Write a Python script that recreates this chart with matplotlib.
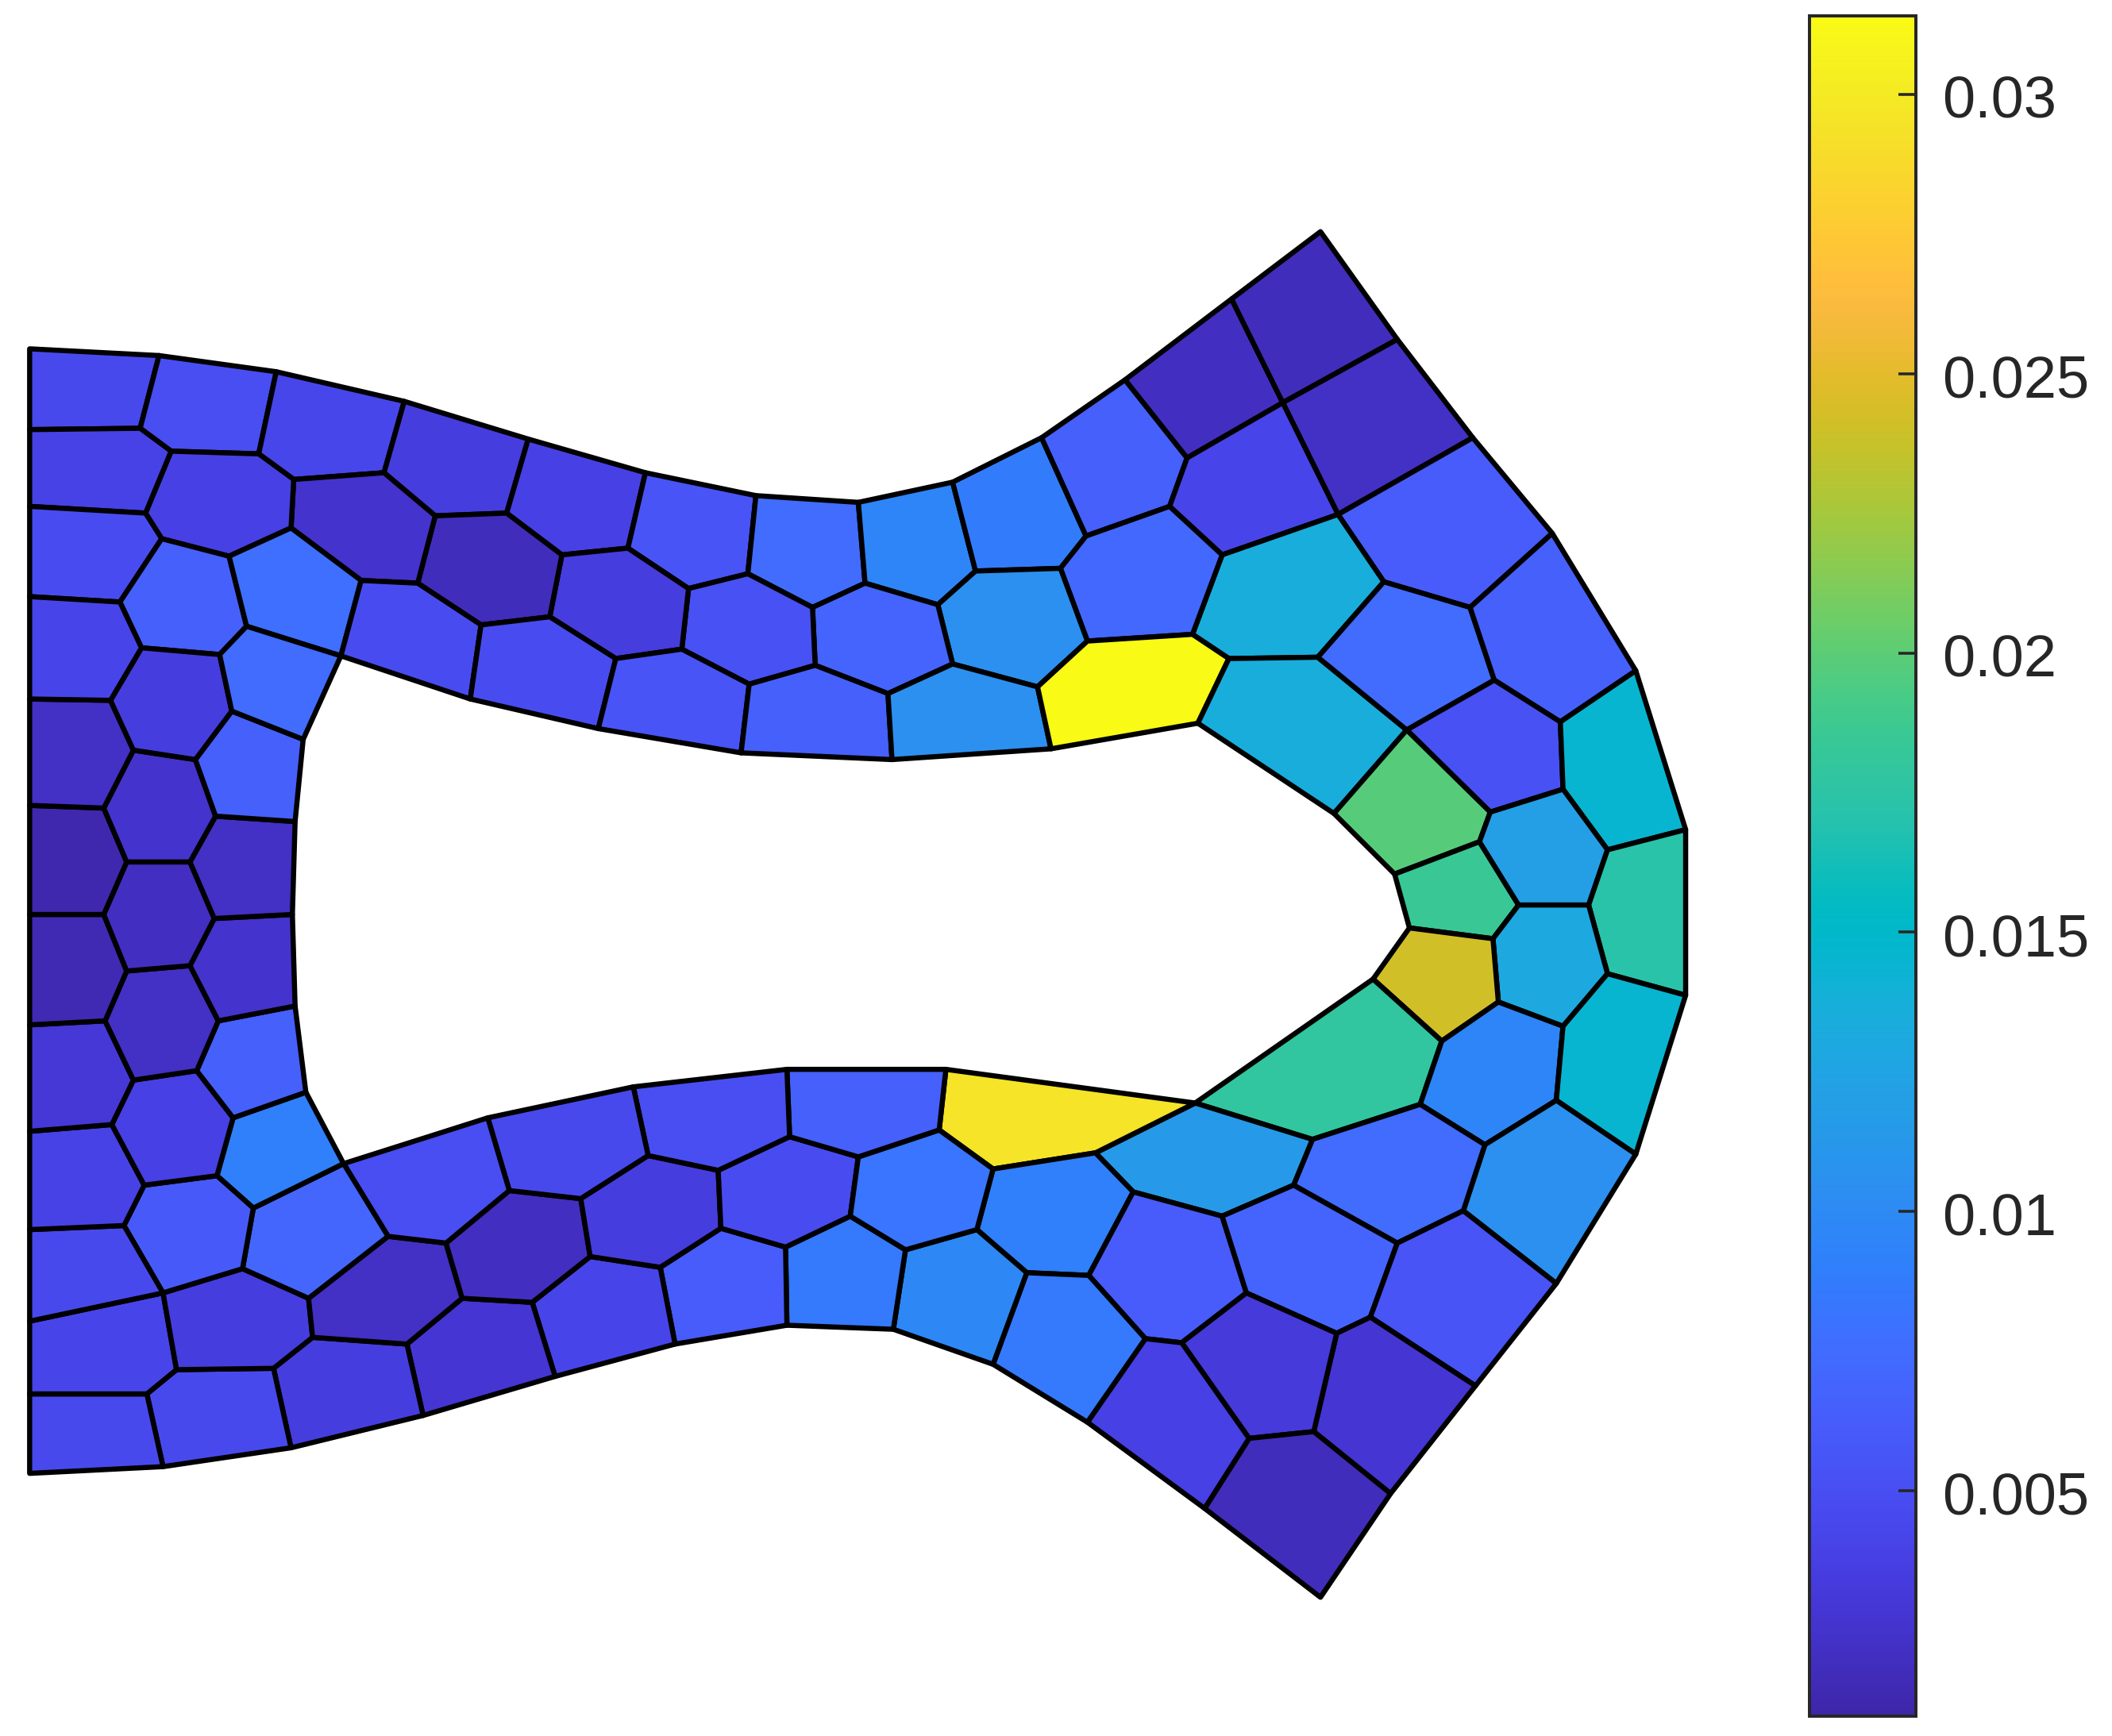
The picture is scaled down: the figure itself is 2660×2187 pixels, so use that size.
import matplotlib
matplotlib.use('Agg')
import matplotlib.pyplot as plt
from matplotlib.collections import PolyCollection
from matplotlib.colors import LinearSegmentedColormap, Normalize
from matplotlib.cm import ScalarMappable
from matplotlib.transforms import ScaledTranslation

plt.rcParams['font.family'] = ['Liberation Sans', 'DejaVu Sans']

# old parula table
parula = [
    [0.2422,0.1504,0.6603],[0.2504,0.1650,0.7076],[0.2578,0.1818,0.7511],[0.2647,0.1978,0.7952],
    [0.2706,0.2147,0.8364],[0.2751,0.2342,0.8710],[0.2783,0.2559,0.8991],[0.2803,0.2782,0.9221],
    [0.2813,0.3006,0.9414],[0.2810,0.3228,0.9579],[0.2795,0.3447,0.9717],[0.2760,0.3667,0.9829],
    [0.2699,0.3892,0.9906],[0.2602,0.4123,0.9952],[0.2440,0.4358,0.9988],[0.2206,0.4603,0.9973],
    [0.1963,0.4847,0.9892],[0.1834,0.5074,0.9798],[0.1786,0.5289,0.9682],[0.1764,0.5499,0.9520],
    [0.1687,0.5703,0.9359],[0.1540,0.5902,0.9218],[0.1460,0.6091,0.9079],[0.1380,0.6276,0.8973],
    [0.1248,0.6459,0.8883],[0.1113,0.6635,0.8763],[0.0952,0.6798,0.8598],[0.0689,0.6948,0.8394],
    [0.0297,0.7082,0.8163],[0.0036,0.7203,0.7917],[0.0067,0.7312,0.7660],[0.0433,0.7411,0.7394],
    [0.0964,0.7500,0.7120],[0.1408,0.7584,0.6842],[0.1717,0.7670,0.6554],[0.1938,0.7758,0.6251],
    [0.2161,0.7843,0.5923],[0.2470,0.7918,0.5567],[0.2906,0.7973,0.5188],[0.3406,0.8008,0.4789],
    [0.3909,0.8029,0.4354],[0.4456,0.8024,0.3909],[0.5044,0.7993,0.3480],[0.5616,0.7942,0.3045],
    [0.6174,0.7876,0.2612],[0.6720,0.7793,0.2227],[0.7242,0.7698,0.1910],[0.7738,0.7598,0.1646],
    [0.8203,0.7498,0.1535],[0.8634,0.7406,0.1596],[0.9035,0.7330,0.1774],[0.9393,0.7288,0.2100],
    [0.9728,0.7298,0.2394],[0.9956,0.7434,0.2371],[0.9970,0.7659,0.2199],[0.9952,0.7893,0.2028],
    [0.9892,0.8136,0.1885],[0.9786,0.8386,0.1766],[0.9676,0.8639,0.1643],[0.9610,0.8890,0.1537],
    [0.9597,0.9135,0.1423],[0.9628,0.9373,0.1265],[0.9691,0.9606,0.1064],[0.9769,0.9839,0.0805],
]

# mesh cells, corners
cells = [
    [(22,259),(118,264),(104,318),(22,319)],
    [(118,264),(205,276),(192,337),(127,335),(104,318)],
    [(205,276),(300,298),(285,351),(218,356),(192,337)],
    [(300,298),(392,326),(376,381),(323,383),(285,351)],
    [(392,326),(479,351),(466,407),(417,412),(376,381)],
    [(479,351),(561,368),(555,426),(511,437),(466,407)],
    [(561,368),(637,373),(642,433),(603,451),(555,426)],
    [(637,373),(707,358),(724,424),(696,449),(642,433)],
    [(707,358),(773,325),(806,398),(787,422),(724,424)],
    [(773,325),(835,282),(881,340),(868,376),(806,398)],
    [(835,282),(914,222),(952,299),(881,340)],
    [(914,222),(980,172),(1037,252),(952,299)],
    [(952,299),(1037,252),(1093,325),(993,382)],
    [(881,340),(952,299),(993,382),(907,412),(868,376)],
    [(993,382),(1093,325),(1152,396),(1091,451),(1027,432)],
    [(907,412),(993,382),(1027,432),(978,488),(912,489),(885,471)],
    [(806,398),(868,376),(907,412),(885,471),(807,476),(787,422)],
    [(724,424),(787,422),(807,476),(770,510),(707,493),(696,449)],
    [(642,433),(696,449),(707,493),(659,515),(605,494),(603,451)],
    [(555,426),(603,451),(605,494),(556,508),(506,482),(511,437)],
    [(466,407),(511,437),(506,482),(457,489),(408,458),(417,412)],
    [(323,383),(376,381),(417,412),(408,458),(357,464),(310,433)],
    [(218,356),(285,351),(323,383),(310,433),(268,431),(216,392)],
    [(127,335),(192,337),(218,356),(216,392),(170,413),(120,400),(108,381)],
    [(22,319),(104,318),(127,335),(108,381),(22,376)],
    [(22,376),(108,381),(120,400),(89,447),(22,443)],
    [(120,400),(170,413),(183,465),(163,486),(105,481),(89,447)],
    [(170,413),(216,392),(268,431),(253,487),(183,465)],
    [(268,431),(310,433),(357,464),(349,519),(253,487)],
    [(357,464),(408,458),(457,489),(444,541),(349,519)],
    [(457,489),(506,482),(556,508),(550,559),(444,541)],
    [(556,508),(605,494),(659,515),(662,564),(550,559)],
    [(659,515),(707,493),(770,510),(780,556),(662,564)],
    [(770,510),(807,476),(885,471),(912,489),(889,537),(780,556)],
    [(912,489),(978,488),(1044,542),(990,604),(889,537)],
    [(978,488),(1027,432),(1091,451),(1109,505),(1044,542)],
    [(1091,451),(1152,396),(1214,498),(1158,536),(1109,505)],
    [(1109,505),(1158,536),(1160,586),(1106,603),(1044,542)],
    [(1158,536),(1214,498),(1251,616),(1193,631),(1160,586)],
    [(1044,542),(1106,603),(1098,625),(1035,649),(990,604)],
    [(1035,649),(1098,625),(1127,672),(1108,697),(1046,689)],
    [(1106,603),(1160,586),(1193,631),(1179,672),(1127,672),(1098,625)],
    [(1193,631),(1251,616),(1251,739),(1193,723),(1179,672)],
    [(1127,672),(1179,672),(1193,723),(1160,762),(1112,744),(1108,697)],
    [(1046,689),(1108,697),(1112,744),(1070,773),(1019,727)],
    [(1019,727),(1070,773),(1054,820),(974,846),(887,819)],
    [(1070,773),(1112,744),(1160,762),(1155,817),(1102,850),(1054,820)],
    [(1160,762),(1193,723),(1251,739),(1214,857),(1155,817)],
    [(1155,817),(1214,857),(1155,953),(1086,899),(1102,850)],
    [(1054,820),(1102,850),(1086,899),(1037,923),(960,880),(974,846)],
    [(887,819),(974,846),(960,880),(907,903),(841,885),(813,856)],
    [(702,794),(887,819),(813,856),(737,868),(697,839)],
    [(737,868),(813,856),(841,885),(808,947),(762,945),(725,913)],
    [(841,885),(907,903),(925,960),(877,997),(850,994),(808,947)],
    [(907,903),(960,880),(1037,923),(1017,978),(992,990),(925,960)],
    [(1037,923),(1086,899),(1155,953),(1095,1029),(1017,978)],
    [(992,990),(1017,978),(1095,1029),(1032,1109),(975,1063)],
    [(925,960),(992,990),(975,1063),(927,1068),(877,997)],
    [(927,1068),(975,1063),(1032,1109),(980,1186),(894,1120)],
    [(850,994),(877,997),(927,1068),(894,1120),(807,1056)],
    [(762,945),(808,947),(850,994),(807,1056),(737,1013)],
    [(672,928),(725,913),(762,945),(737,1013),(663,987)],
    [(583,926),(631,903),(672,928),(663,987),(584,984)],
    [(490,941),(535,912),(583,926),(584,984),(501,998)],
    [(395,967),(438,933),(490,941),(501,998),(412,1022)],
    [(302,998),(343,964),(395,967),(412,1022),(314,1051)],
    [(203,1016),(232,993),(302,998),(314,1051),(216,1075)],
    [(109,1035),(131,1017),(203,1016),(216,1075),(121,1089)],
    [(22,1035),(109,1035),(121,1089),(22,1094)],
    [(22,981),(121,960),(131,1017),(109,1035),(22,1035)],
    [(121,960),(180,942),(229,964),(232,993),(203,1016),(131,1017)],
    [(229,964),(288,918),(331,923),(343,964),(302,998),(232,993)],
    [(331,923),(378,884),(431,890),(438,933),(395,967),(343,964)],
    [(431,890),(481,858),(533,869),(535,912),(490,941),(438,933)],
    [(533,869),(586,844),(637,859),(631,903),(583,926),(535,912)],
    [(637,859),(697,839),(737,868),(725,913),(672,928),(631,903)],
    [(584,794),(702,794),(697,839),(637,859),(586,844)],
    [(470,807),(584,794),(586,844),(533,869),(481,858)],
    [(362,830),(470,807),(481,858),(431,890),(378,884)],
    [(255,864),(362,830),(378,884),(331,923),(288,918)],
    [(188,897),(255,864),(288,918),(229,964),(180,942)],
    [(173,830),(227,811),(255,864),(188,897),(161,873)],
    [(107,880),(161,873),(188,897),(180,942),(121,960),(92,910)],
    [(22,913),(92,910),(121,960),(22,981)],
    [(22,840),(83,835),(107,880),(92,910),(22,913)],
    [(99,802),(146,795),(173,830),(161,873),(107,880),(83,835)],
    [(146,795),(162,758),(219,747),(227,811),(173,830)],
    [(22,761),(78,758),(99,802),(83,835),(22,840)],
    [(94,721),(141,717),(162,758),(146,795),(99,802),(78,758)],
    [(141,717),(159,682),(217,679),(219,747),(162,758)],
    [(22,679),(77,679),(94,721),(78,758),(22,761)],
    [(94,640),(141,640),(159,682),(141,717),(94,721),(77,679)],
    [(141,640),(160,606),(219,610),(217,679),(159,682)],
    [(22,598),(77,600),(94,640),(77,679),(22,679)],
    [(99,557),(145,564),(160,606),(141,640),(94,640),(77,600)],
    [(145,564),(172,528),(225,549),(219,610),(160,606)],
    [(22,519),(82,520),(99,557),(77,600),(22,598)],
    [(105,481),(163,486),(172,528),(145,564),(99,557),(82,520)],
    [(163,486),(183,465),(253,487),(225,549),(172,528)],
    [(22,443),(89,447),(105,481),(82,520),(22,519)],
]

# value per cell, estimated from the fill colour
values = [
    .0045,.005,.0043,.0035,.0038,.0055,.0075,.0095,.0088,.0065,
    .002,.0018,.0022,.0042,.0062,.0135,.0072,.0105,.0068,.0052,
    .0035,.0018,.0025,.0038,.004,.0048,.0065,.0078,.0048,.0048,
    .0055,.0065,.0105,.0313,.0135,.0075,.0065,.0052,.0145,.0198,
    .0185,.012,.0172,.013,.0241,.0178,.0095,.0145,.0105,.0075,
    .0115,.0295,.009,.0062,.0068,.0055,.0028,.0032,.0018,.0038,
    .0085,.0098,.0085,.0062,.0042,.0028,.0035,.0045,.0045,.0042,
    .0035,.0022,.002,.0035,.0048,.0082,.0065,.005,.0045,.005,
    .007,.009,.006,.0045,.004,.0038,.0065,.003,.0022,.0025,
    .0015,.002,.0022,.0012,.0025,.0065,.0022,.0035,.0075,.0042,
]

cbar_ticks = [0.005, 0.01, 0.015, 0.02, 0.025, 0.03]
cbar_labels = ['0.005', '0.01', '0.015', '0.02', '0.025', '0.03']
vmin = 0.00097
vmax = 0.0314

W, H = 1568, 1289
fig = plt.figure(figsize=(2661/300, 2187/300), dpi=300, facecolor='white')
ax = fig.add_axes([0, 0, 1, 1])
ax.set_xlim(0, W)
ax.set_ylim(H, 0)
ax.axis('off')

cmap = LinearSegmentedColormap.from_list('parula', parula, N=512)
norm = Normalize(vmin, vmax)
mesh = PolyCollection(cells, array=values, cmap=cmap, norm=norm, edgecolors='black', linewidths=1.55)
mesh.set_joinstyle('round')
ax.add_collection(mesh)

cax = fig.add_axes([1343/W, 1 - 1274/H, 79/W, 1262/H])
cb = fig.colorbar(ScalarMappable(norm=norm, cmap=cmap), cax=cax)
cb.set_ticks(cbar_ticks)
cb.set_ticklabels(cbar_labels)
cax.tick_params(direction='in', length=5.2, width=0.85, labelsize=17.8, colors='#262626', pad=8)
cb.outline.set_edgecolor('#262626')
cb.outline.set_linewidth(0.95)

# labels sit a little under their ticks
nudge = ScaledTranslation(0, -0.7/72, fig.dpi_scale_trans)
for label in cax.get_yticklabels():
    label.set_transform(label.get_transform() + nudge)

fig.savefig('out.png', dpi=300)
